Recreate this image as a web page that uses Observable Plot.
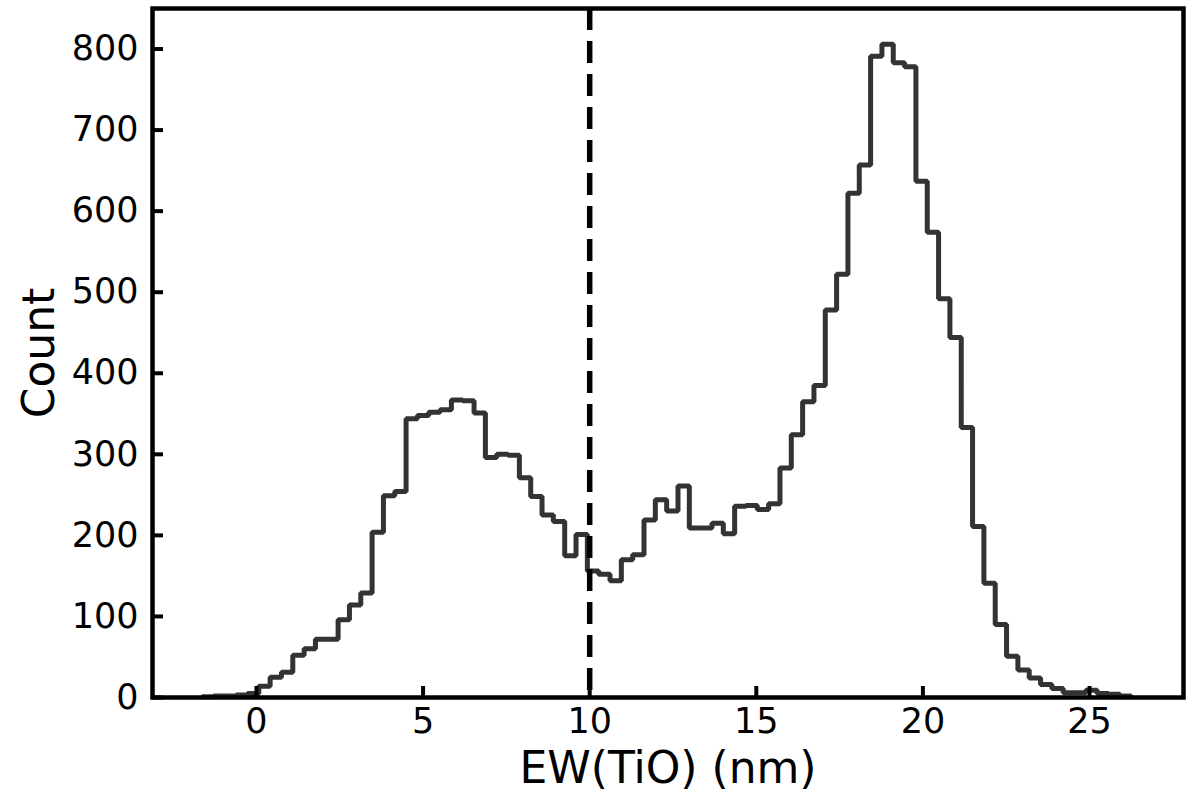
<!DOCTYPE html>
<html>
<head>
<meta charset="utf-8">
<script src="https://cdn.jsdelivr.net/npm/d3@7"></script>
<script src="https://cdn.jsdelivr.net/npm/@observablehq/plot@0.6"></script>
<style>
  html, body { margin: 0; padding: 0; background: #fff; }
  #chart svg { display: block; }
</style>
</head>
<body>
<div id="chart"></div>
<script>
// Histogram definition (bin start and width in nm)
const binStart = -1.63;
const binWidth = 0.34;
// Counts per bin
const counts = [
  1, 2, 2, 3, 5, 14, 25, 31, 52, 60,
  72, 72, 96, 114, 129, 204, 249, 254, 344, 348,
  352, 355, 367, 366, 351, 296, 300, 299, 271, 248,
  225, 217, 175, 201, 156, 152, 144, 170, 176, 219,
  244, 230, 261, 209, 209, 215, 202, 236, 237, 232,
  239, 283, 324, 365, 385, 478, 522, 622, 657, 791,
  806, 783, 778, 637, 574, 492, 444, 333, 211, 141,
  90, 51, 34, 24, 16, 11, 6, 6, 9, 5,
  4, 2
];
const cutValue = 10;
const xTicks = [0, 5, 10, 15, 20, 25];
const yTicks = [0, 100, 200, 300, 400, 500, 600, 700, 800];
const xDomain = [-3.12, 27.82];
const yDomain = [0, 850];
const xLabel = "EW(TiO) (nm)";
const yLabel = "Count";

// Build step outline points (histtype="step")
const edges = counts.map((_, i) => binStart + i * binWidth);
const lastEdge = binStart + counts.length * binWidth;
const pts = [{x: edges[0], y: 0}];
counts.forEach((c, i) => pts.push({x: edges[i], y: c}));
pts.push({x: lastEdge, y: counts[counts.length - 1]});
pts.push({x: lastEdge, y: 0});

const plot = Plot.plot({
  width: 1200,
  height: 802,
  marginLeft: 152,
  marginRight: 17,
  marginTop: 8,
  marginBottom: 105,
  style: {fontFamily: "DejaVu Sans", fontSize: "35px", color: "#000", background: "#fff"},
  x: {domain: xDomain},
  y: {domain: yDomain},
  marks: [
    Plot.line(pts, {x: "x", y: "y", curve: "step-after", stroke: "#333333", strokeWidth: 5, strokeLinejoin: "miter", strokeLinecap: "butt"}),
    Plot.ruleX([cutValue], {stroke: "#000", strokeWidth: 5.5, strokeDasharray: "22,11"}),
    Plot.frame({stroke: "#000", strokeWidth: 4.5}),
    Plot.axisX({ticks: xTicks, tickSize: -11, tickPadding: 22, strokeWidth: 4, fontSize: 35, label: null}),
    Plot.axisY({ticks: yTicks, tickSize: -11, tickPadding: 25, strokeWidth: 4, fontSize: 35, label: null}),
    Plot.text([xLabel], {frameAnchor: "bottom", dy: 85, fontSize: 44, fill: "#000"}),
    Plot.text([yLabel], {frameAnchor: "left", textAnchor: "middle", dx: -113, rotate: -90, fontSize: 44, fill: "#000"})
  ]
});
document.getElementById("chart").appendChild(plot);
</script>
</body>
</html>
